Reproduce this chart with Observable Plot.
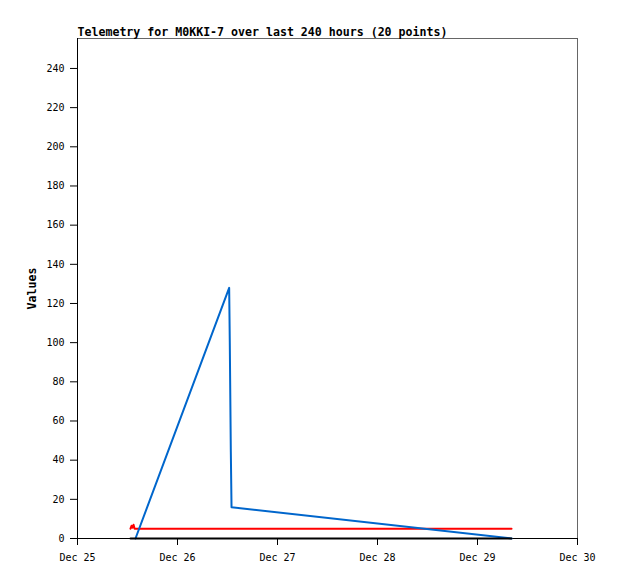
<!DOCTYPE html>
<html>
<head>
<meta charset="utf-8">
<script src="https://cdn.jsdelivr.net/npm/d3@7"></script>
<script src="https://cdn.jsdelivr.net/npm/@observablehq/plot@0.6"></script>
<style>
  html, body { margin: 0; padding: 0; background: #fff; }
  #chart svg { display: block; font-family: "DejaVu Sans Mono", monospace; }
</style>
</head>
<body>
<div id="chart"></div>
<script>
const title = "Telemetry for M0KKI-7 over last 240 hours (20 points)";
const yLabel = "Values";
const xTickDates = ["2023-12-25", "2023-12-26", "2023-12-27", "2023-12-28", "2023-12-29", "2023-12-30"];
const yTicks = [0, 20, 40, 60, 80, 100, 120, 140, 160, 180, 200, 220, 240];

// series (UTC timestamps)
const blackTimes = ["2023-12-25T12:43", "2023-12-29T08:10"];
const blackValues = [0, 0];

const redTimes = ["2023-12-25T12:43", "2023-12-25T12:58", "2023-12-25T13:12", "2023-12-25T13:27", "2023-12-25T13:42", "2023-12-29T08:10"];
const redValues = [5, 6.5, 5.5, 7, 5, 5];

const blueTimes = ["2023-12-25T13:55", "2023-12-26T12:24", "2023-12-26T12:33", "2023-12-26T12:48", "2023-12-26T12:58", "2023-12-29T08:10"];
const blueValues = [0, 128, 100, 44, 16, 0];

const toRows = (times, values) => times.map((t, i) => ({date: new Date(t + "Z"), value: values[i]}));
const black = toRows(blackTimes, blackValues);
const red = toRows(redTimes, redValues);
const blue = toRows(blueTimes, blueValues);

const xDomain = [new Date(xTickDates[0] + "T00:00Z"), new Date(xTickDates[xTickDates.length - 1] + "T00:00Z")];
const fmt = d3.utcFormat("%b %-d");

const chart = Plot.plot({
  width: 618,
  height: 579,
  marginLeft: 77,
  marginRight: 41,
  marginTop: 38,
  marginBottom: 41,
  style: {fontFamily: "DejaVu Sans Mono, monospace", fontSize: "10px", color: "#000", background: "#fff"},
  x: {type: "utc", domain: xDomain},
  y: {domain: [0, 255.3]},
  marks: [
    Plot.frame({stroke: "#666", strokeWidth: 1}),
    Plot.axisY({ticks: yTicks, tickSize: 7, tickPadding: 6, label: null, fontSize: 10}),
    Plot.axisX({ticks: xTickDates.map(d => new Date(d + "T00:00Z")), tickFormat: fmt, tickSize: 7, tickPadding: 8, label: null, fontSize: 10}),
    Plot.ruleX([xDomain[0]], {stroke: "#000", strokeWidth: 1}),
    Plot.ruleY([0], {stroke: "#000", strokeWidth: 1}),
    Plot.line(red, {x: "date", y: "value", stroke: "#ff0000", strokeWidth: 2}),
    Plot.line(blue, {x: "date", y: "value", stroke: "#0066cc", strokeWidth: 2}),
    Plot.line(black, {x: "date", y: "value", stroke: "#000", strokeWidth: 2}),
    Plot.text([title], {frameAnchor: "top-left", text: d => d, dy: -3, textAnchor: "start", lineAnchor: "bottom", fontWeight: "bold", fontSize: 11.6}),
    Plot.text([yLabel], {frameAnchor: "left", text: d => d, dx: -45, rotate: -90, textAnchor: "middle", fontWeight: "bold", fontSize: 11.6})
  ]
});
document.getElementById("chart").appendChild(chart);
</script>
</body>
</html>
